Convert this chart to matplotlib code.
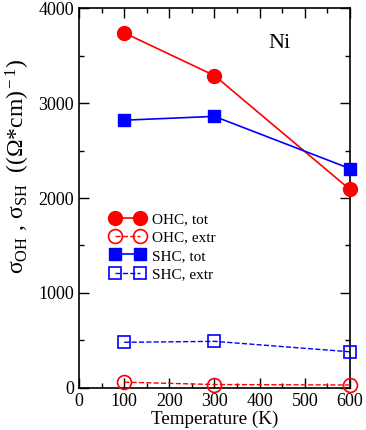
import matplotlib
matplotlib.use("Agg")
import matplotlib.pyplot as plt
from matplotlib.ticker import MultipleLocator

plt.rcParams['font.family'] = ['Liberation Serif', 'DejaVu Serif']
plt.rcParams['mathtext.fontset'] = 'custom'
plt.rcParams['mathtext.rm'] = 'Liberation Serif'
plt.rcParams['mathtext.it'] = 'Liberation Serif:italic'
plt.rcParams['mathtext.bf'] = 'Liberation Serif:bold'

temps = [100, 300, 600]
ohc_tot = [3740, 3290, 2090]
ohc_extr = [60, 35, 30]
shc_tot = [2820, 2860, 2310]
shc_extr = [480, 490, 380]

fig = plt.figure(figsize=(3.66, 4.30), dpi=100)
ax = fig.add_axes([0.216, 0.098, 0.740, 0.883])

ax.plot(temps, ohc_tot, '-o', color='red', lw=1.2, ms=10, label='OHC, tot', clip_on=False, zorder=3)
ax.plot(temps, ohc_extr, '--o', color='red', lw=1.0, ms=10, mfc='none', mew=1.2, label='OHC, extr', clip_on=False, zorder=3)
ax.plot(temps, shc_tot, '-s', color='blue', lw=1.2, ms=8, label='SHC, tot', clip_on=False, zorder=3)
ax.plot(temps, shc_extr, '--s', color='blue', lw=1.0, ms=9, mfc='none', mew=1.2, label='SHC, extr', clip_on=False, zorder=3)

ax.set_xlim(0, 600)
ax.set_ylim(0, 4000)
ax.xaxis.set_major_locator(MultipleLocator(100))
ax.xaxis.set_minor_locator(MultipleLocator(50))
ax.yaxis.set_major_locator(MultipleLocator(1000))
ax.yaxis.set_minor_locator(MultipleLocator(500))
ax.tick_params(which='both', direction='in', top=True, right=True, labelsize=13)
ax.tick_params(which='major', length=7, width=1)
ax.tick_params(which='minor', length=3.5, width=1)
for s in ax.spines.values():
    s.set_linewidth(1.2)

ax.set_xlabel('Temperature (K)', fontsize=13.8, labelpad=1)
ax.set_ylabel('σ$_{\\rm OH}$ , σ$_{\\rm SH}$  ((Ω*cm)$^{\\rm -1}$)', fontsize=17)
ax.yaxis.set_label_coords(-0.172, 0.584)

ax.text(443, 3630, 'Ni', fontsize=16, ha='center', va='center')

ax.legend(loc='upper left', bbox_to_anchor=(0.116, 0.462), frameon=False, fontsize=11,
          numpoints=2, handlelength=2.24, handletextpad=0.48, labelspacing=0.3, borderpad=0,
          borderaxespad=0)

fig.savefig('out.png', dpi=100)
